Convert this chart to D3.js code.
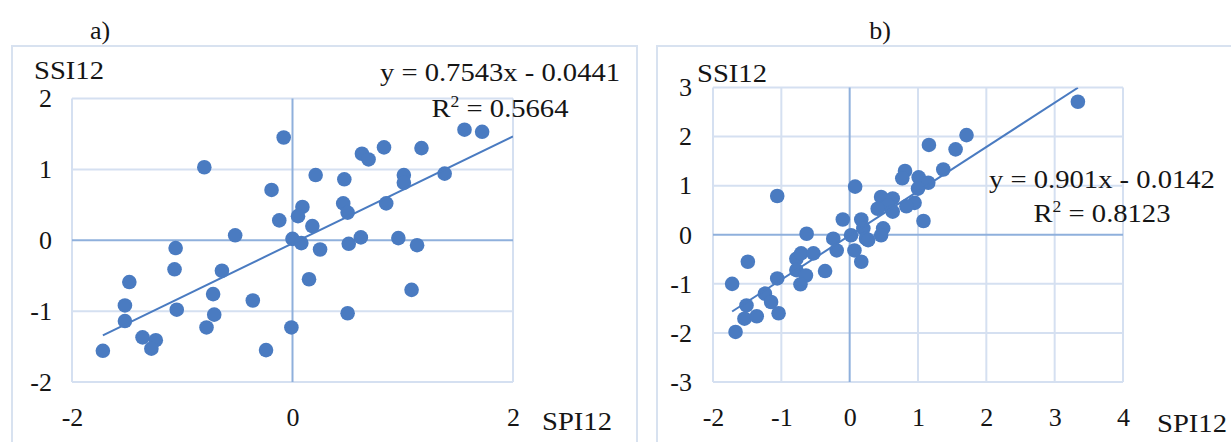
<!DOCTYPE html>
<html>
<head>
<meta charset="utf-8">
<script src="https://cdn.jsdelivr.net/npm/d3@7"></script>
<style>
  body { margin: 0; background: #fff; }
  text { font-family: "Liberation Serif", "Times New Roman", serif; fill: #151515; }
</style>
</head>
<body>
<div class="chart"></div>
<script>
// panel a) SPI12 vs SSI12
var spiA = [-0.08, -0.80, -0.19, -0.12, -0.52, -1.06, -1.07, -0.64, -1.48, -1.52, -1.52, -1.05, -0.72, -0.71, -0.78, -0.36, -1.36, -1.24, -1.28, -1.72, -0.24, -0.01, 0.00, 0.21, 0.47, 0.63, 0.69, 0.83, 1.17, 1.56, 1.72, 1.01, 1.01, 1.38, 0.85, 0.46, 0.50, 0.09, 0.05, 0.18, 0.08, 0.25, 0.51, 0.62, 0.96, 1.13, 0.15, 1.08, 0.50];
var ssiA = [1.45, 1.03, 0.71, 0.28, 0.07, -0.11, -0.41, -0.43, -0.59, -0.92, -1.14, -0.98, -0.76, -1.05, -1.23, -0.85, -1.37, -1.41, -1.53, -1.56, -1.55, -1.23, 0.02, 0.92, 0.86, 1.22, 1.14, 1.31, 1.30, 1.56, 1.53, 0.92, 0.81, 0.94, 0.52, 0.52, 0.39, 0.47, 0.34, 0.20, -0.04, -0.13, -0.05, 0.04, 0.03, -0.07, -0.55, -0.70, -1.03];

// panel b)
var spiB = [-1.06, 0.08, -0.63, -1.49, -1.72, -1.67, -1.51, -1.54, -1.36, -1.24, -1.15, -1.04, -1.06, -0.78, -0.71, -0.78, -0.64, -0.72, -0.53, -0.36, -0.24, -0.19, -0.10, 0.02, 0.07, 0.17, 0.20, 0.24, 0.17, 3.34, 1.71, 1.16, 1.55, 1.37, 0.81, 0.77, 1.01, 1.15, 1.00, 0.95, 0.83, 1.08, 0.63, 0.46, 0.56, 0.41, 0.63, 0.49, 0.46, 0.27];
var ssiB = [0.79, 0.98, 0.02, -0.55, -1.00, -1.98, -1.44, -1.71, -1.66, -1.20, -1.37, -1.60, -0.89, -0.49, -0.38, -0.72, -0.83, -1.01, -0.38, -0.74, -0.08, -0.32, 0.31, -0.01, -0.32, 0.31, 0.13, -0.08, -0.55, 2.71, 2.03, 1.83, 1.74, 1.33, 1.30, 1.15, 1.17, 1.06, 0.94, 0.65, 0.58, 0.28, 0.74, 0.77, 0.60, 0.53, 0.47, 0.13, -0.01, -0.11];

var xTicksA = [-2, 0, 2];
var yTicksA = [-2, -1, 0, 1, 2];
var xTicksB = [-2, -1, 0, 1, 2, 3, 4];
var yTicksB = [-3, -2, -1, 0, 1, 2, 3];

var trendA = [0.7543, -0.0441];   // slope, intercept
var trendB = [0.901, -0.0142];
var trendRangeA = [-1.72, 2];
var trendRangeB = [-1.72, 3.34];

var eqA = ["y = 0.7543x - 0.0441", "0.5664"];
var eqB = ["y = 0.901x - 0.0142", "0.8123"];

var dotColor = "#4a7bc1";
var gridColor = "#d5e0f1";
var zeroColor = "#8fb0dc";
var frameColor = "#d8e2f0";

var svg = d3.select(".chart").append("svg")
  .attr("width", 1231)
  .attr("height", 442);

function drawPanel(p) {
  var x = d3.scaleLinear().domain(d3.extent(p.xTicks)).range([p.left, p.right]);
  var y = d3.scaleLinear().domain(d3.extent(p.yTicks)).range([p.bottom, p.top]);
  var g = svg.append("g");

  // outer frame
  g.append("rect")
    .attr("x", p.frame[0]).attr("y", p.frame[1])
    .attr("width", p.frame[2]).attr("height", p.frame[3])
    .attr("fill", "none").attr("stroke", frameColor).attr("stroke-width", 2);

  // gridlines
  g.selectAll(".hg").data(p.yTicks.filter(d => d != 0)).enter().append("line")
    .attr("x1", p.left).attr("x2", p.right)
    .attr("y1", d => y(d)).attr("y2", d => y(d))
    .attr("stroke", gridColor).attr("stroke-width", 2);
  g.selectAll(".vg").data(p.xTicks.filter(d => d != 0)).enter().append("line")
    .attr("y1", p.top).attr("y2", p.bottom)
    .attr("x1", d => x(d)).attr("x2", d => x(d))
    .attr("stroke", gridColor).attr("stroke-width", 2);

  // zero axes
  g.append("line").attr("x1", p.left).attr("x2", p.right)
    .attr("y1", y(0)).attr("y2", y(0))
    .attr("stroke", zeroColor).attr("stroke-width", 2);
  g.append("line").attr("y1", p.top).attr("y2", p.bottom)
    .attr("x1", x(0)).attr("x2", x(0))
    .attr("stroke", zeroColor).attr("stroke-width", 2);

  // tick labels (Excel puts them at the low end)
  var ax = g.append("g").attr("transform", `translate(0, ${p.bottom})`)
    .call(d3.axisBottom(x).tickValues(p.xTicks).tickSize(0).tickPadding(26).tickFormat(d3.format("d")));
  var ay = g.append("g").attr("transform", `translate(${p.left}, 0)`)
    .call(d3.axisLeft(y).tickValues(p.yTicks).tickSize(0).tickPadding(p.yPad).tickFormat(d3.format("d")));
  [ax, ay].forEach(function(a) {
    a.select(".domain").remove();
    a.selectAll("text").attr("font-family", "Liberation Serif").attr("font-size", 26).attr("fill", "#151515");
  });
  // use hyphen minus like the picture
  g.selectAll(".tick text").text(d => String(d));

  // points
  var pts = p.xs.map((v, i) => [v, p.ys[i]]);
  g.selectAll("circle").data(pts).enter().append("circle")
    .attr("cx", d => x(d[0]))
    .attr("cy", d => y(d[1]))
    .attr("r", 7.3)
    .attr("fill", dotColor);

  // trend line
  var clipId = "clip" + p.name;
  svg.append("clipPath").attr("id", clipId).append("rect")
    .attr("x", p.left).attr("y", p.top)
    .attr("width", p.right - p.left).attr("height", p.bottom - p.top);
  var line = d3.line().x(d => x(d)).y(d => y(p.trend[0] * d + p.trend[1]));
  g.append("path").datum(p.trendRange)
    .attr("d", line)
    .attr("clip-path", `url(#${clipId})`)
    .attr("fill", "none").attr("stroke", dotColor).attr("stroke-width", 2);

  // labels
  function label(txt, tx, ty, anchor) {
    return g.append("text")
      .attr("transform", `translate(${tx}, ${ty}) scale(1.1, 1)`)
      .attr("text-anchor", anchor || "start")
      .attr("font-size", 26)
      .text(txt);
  }
  label("SSI12", p.ssiPos[0], p.ssiPos[1]);
  label("SPI12", p.spiPos[0], p.spiPos[1]);
  label(p.eq[0], p.eqPos[0], p.eqPos[1], "middle");
  var r2 = g.append("text")
    .attr("transform", `translate(${p.eqPos[0]}, ${p.eqPos[2]}) scale(1.1, 1)`)
    .attr("text-anchor", "middle")
    .attr("font-size", 26);
  r2.append("tspan").text("R");
  r2.append("tspan").attr("font-size", 16).attr("dy", -10).text("2");
  r2.append("tspan").attr("dy", 10).text(" = " + p.eq[1]);

  g.append("text")
    .attr("x", p.titleX).attr("y", 39)
    .attr("text-anchor", "middle")
    .attr("font-size", 26)
    .text(p.name + ")");
}

drawPanel({
  name: "a", xs: spiA, ys: ssiA, xTicks: xTicksA, yTicks: yTicksA,
  left: 72, right: 513, top: 98.5, bottom: 382, yPad: 20,
  frame: [12, 46, 625, 420],
  trend: trendA, trendRange: trendRangeA, eq: eqA,
  eqPos: [500, 81, 117], ssiPos: [34, 79], spiPos: [542, 430], titleX: 100
});

drawPanel({
  name: "b", xs: spiB, ys: ssiB, xTicks: xTicksB, yTicks: yTicksB,
  left: 713, right: 1123, top: 87.5, bottom: 382, yPad: 21,
  frame: [657, 46, 620, 420],
  trend: trendB, trendRange: trendRangeB, eq: eqB,
  eqPos: [1102, 188, 222], ssiPos: [697, 82], spiPos: [1157, 432], titleX: 880
});
</script>
</body>
</html>
